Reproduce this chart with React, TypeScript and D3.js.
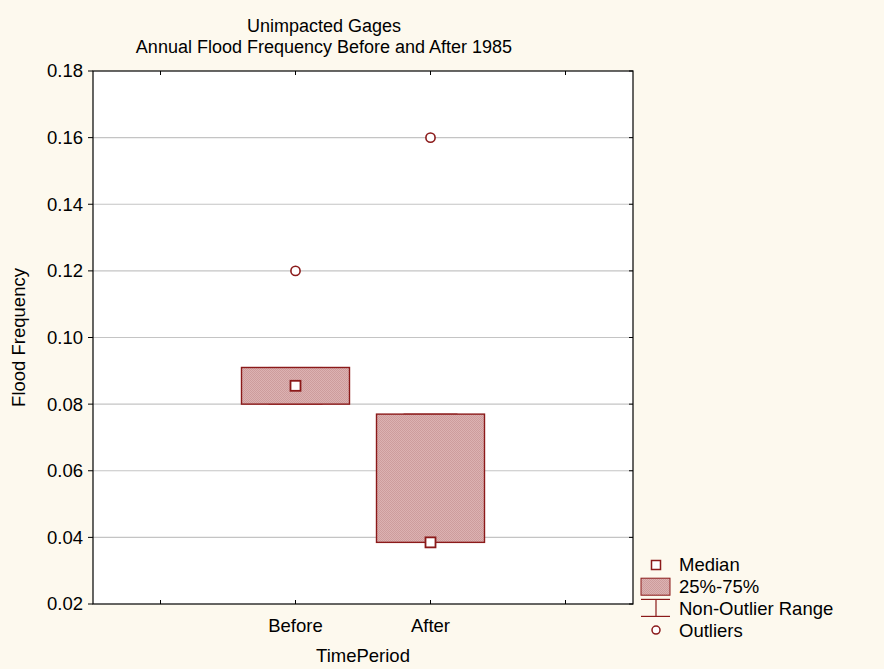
import React from "react";
import * as d3 from "d3";

// categories on the x axis (empty slots at both ends, like the original)
const slots = ["", "Before", "After", ""];
const groups = ["Before", "After"];
const q1 = [0.08, 0.0385];
const q3 = [0.091, 0.077];
const medians = [0.0855, 0.0385];
const whiskLo = [0.08, 0.0385];
const whiskHi = [0.091, 0.077];
const outliers = [
  { group: "Before", value: 0.12 },
  { group: "After", value: 0.16 },
];
const yTicks = [0.02, 0.04, 0.06, 0.08, 0.1, 0.12, 0.14, 0.16, 0.18];
const legendItems = ["Median", "25%-75%", "Non-Outlier Range", "Outliers"];

const W = 884;
const H = 669;
const left = 93;
const right = 633;
const top = 71;
const bottom = 604;
const red = "#8b1a1a";
const font = "Arial, 'Liberation Sans', sans-serif";
const fs = 18.5;

export default function App() {
  const x = d3.scalePoint<string>().domain(slots.map((s, i) => i + ":" + s)).range([left, right]).padding(0.5);
  const xOf = (g: string) => x(slots.indexOf(g) + ":" + g) as number;
  const y = d3.scaleLinear().domain([0.02, 0.18]).range([bottom, top]);
  const boxW = x.step() * 0.8;
  const fmt = d3.format(".2f");

  return (
    <svg width={W} height={H} style={{ position: "absolute", left: 0, top: 0 }} fontFamily={font}>
      <defs>
        <pattern id="dots" width="2" height="2" patternUnits="userSpaceOnUse">
          <rect width="2" height="2" fill="#dcb2b2" />
          <rect width="1" height="1" fill="#cd9c9c" />
          <rect x="1" y="1" width="1" height="1" fill="#cd9c9c" />
        </pattern>
      </defs>
      <rect width={W} height={H} fill="#fdf9ee" />
      <rect x={left} y={top} width={right - left} height={bottom - top} fill="#ffffff" />

      {/* grid lines */}
      {yTicks.slice(1, -1).map((t) => (
        <line key={t} x1={left} x2={right} y1={y(t)} y2={y(t)} stroke="#c4c4c4" strokeWidth={1.2} />
      ))}

      {/* boxes */}
      {groups.map((g, i) => {
        const cx = xOf(g);
        return (
          <g key={g}>
            <line x1={cx - boxW / 4} x2={cx + boxW / 4} y1={y(whiskLo[i])} y2={y(whiskLo[i])} stroke={red} />
            <line x1={cx - boxW / 4} x2={cx + boxW / 4} y1={y(whiskHi[i])} y2={y(whiskHi[i])} stroke={red} />
            <rect
              x={cx - boxW / 2}
              y={y(q3[i])}
              width={boxW}
              height={y(q1[i]) - y(q3[i])}
              fill="url(#dots)"
              stroke={red}
              strokeWidth={1.4}
            />
            <rect x={cx - 5} y={y(medians[i]) - 5} width={10} height={10} fill="#fff" stroke={red} strokeWidth={1.8} />
          </g>
        );
      })}

      {/* outliers */}
      {outliers.map((o) => (
        <circle key={o.group} cx={xOf(o.group)} cy={y(o.value)} r={4.6} fill="#fff" stroke={red} strokeWidth={1.6} />
      ))}

      {/* frame */}
      <rect x={left} y={top} width={right - left} height={bottom - top} fill="none" stroke="#000" strokeWidth={1.2} />

      {/* y axis */}
      {yTicks.map((t) => (
        <g key={t}>
          <line x1={left - 5} x2={left} y1={y(t)} y2={y(t)} stroke="#000" />
          <line x1={right - 4} x2={right} y1={y(t)} y2={y(t)} stroke="#000" />
          <text x={left - 10} y={y(t)} dy="0.35em" textAnchor="end" fontSize={fs}>
            {fmt(t)}
          </text>
        </g>
      ))}

      {/* x axis */}
      {slots.map((s, i) => {
        const px = x(i + ":" + s) as number;
        return (
          <g key={i}>
            <line x1={px} x2={px} y1={bottom} y2={bottom - 4} stroke="#000" />
            <line x1={px} x2={px} y1={top} y2={top + 4} stroke="#000" />
            <text x={px} y={632} textAnchor="middle" fontSize={fs}>
              {s}
            </text>
          </g>
        );
      })}

      <text x={(left + right) / 2} y={662} textAnchor="middle" fontSize={fs}>
        TimePeriod
      </text>
      <text transform={`translate(25,${(top + bottom) / 2}) rotate(-90)`} textAnchor="middle" fontSize={fs}>
        Flood Frequency
      </text>

      <text x={324} y={32} textAnchor="middle" fontSize={18}>
        Unimpacted Gages
      </text>
      <text x={324} y={53} textAnchor="middle" fontSize={18}>
        Annual Flood Frequency Before and After 1985
      </text>

      {/* legend */}
      {legendItems.map((label, i) => {
        const ly = 565 + i * 21.7;
        const mx = 656;
        return (
          <g key={label}>
            {i === 0 && <rect x={mx - 4.5} y={ly - 4.5} width={9} height={9} fill="#fff" stroke={red} strokeWidth={1.5} />}
            {i === 1 && <rect x={mx - 15} y={ly - 8.5} width={29} height={17} fill="url(#dots)" stroke={red} />}
            {i === 2 && (
              <g stroke={red} strokeWidth={1.2}>
                <line x1={mx - 15} x2={mx + 14} y1={ly - 9} y2={ly - 9} />
                <line x1={mx} x2={mx} y1={ly - 9} y2={ly + 8} />
                <line x1={mx - 15} x2={mx + 14} y1={ly + 8} y2={ly + 8} />
              </g>
            )}
            {i === 3 && <circle cx={mx} cy={ly} r={4} fill="#fff" stroke={red} strokeWidth={1.5} />}
            <text x={679} y={ly} dy="0.35em" fontSize={fs}>
              {label}
            </text>
          </g>
        );
      })}
    </svg>
  );
}
